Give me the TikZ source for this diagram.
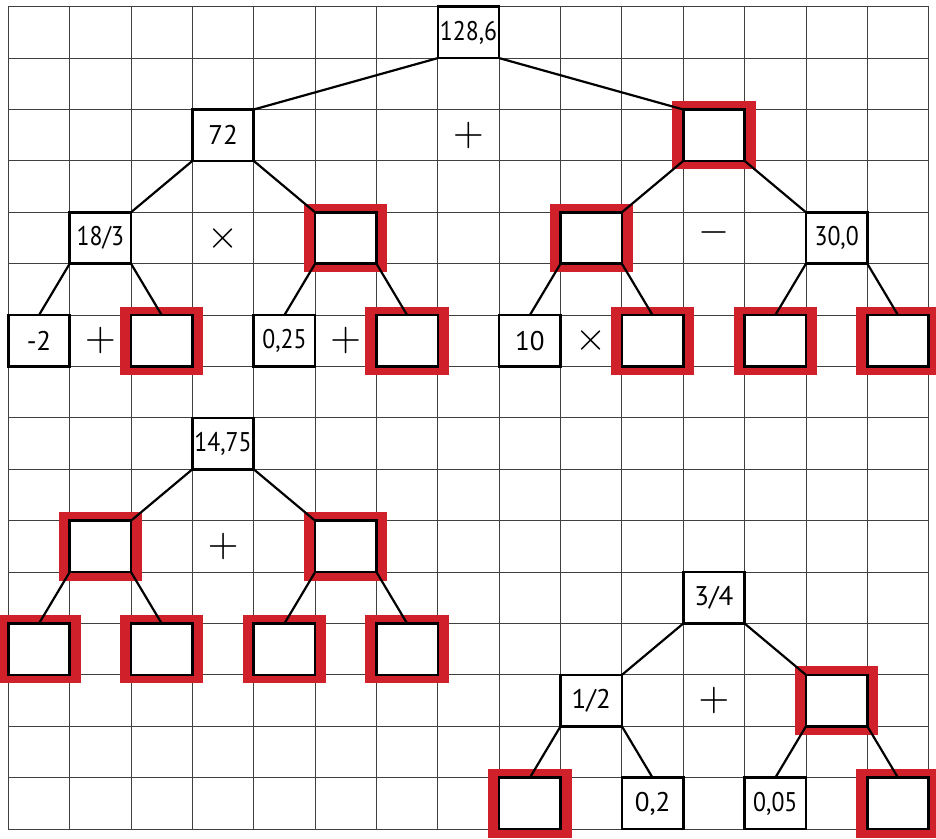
\documentclass[tikz,border=0pt]{standalone}
\usepackage{fontspec}
\setmainfont{PT Sans}
\pgfdeclarelayer{gridlayer}
\pgfdeclarelayer{redlayer}
\pgfsetlayers{gridlayer,redlayer,main}
\definecolor{hlred}{RGB}{208,33,42}
\tikzset{
  gridline/.style={draw=black!75, line width=0.9pt},
  box/.style={draw=black, line width=2.5pt, fill=white, minimum width=61.36pt,
    minimum height=51.4pt, inner sep=0pt, outer sep=0pt,
    font=\fontsize{27}{29}\selectfont},
  op/.style={inner sep=0pt},
  edge/.style={draw=black, line width=2.2pt},
  hlframe/.style={fill=hlred},
}
\newcommand{\narrow}[1]{\scalebox{0.88}[1]{#1}}
\newcommand{\bigop}[1]{\scalebox{4}{$#1$}}
\begin{document}
\begin{tikzpicture}[x=61.36pt, y=-51.4pt, shift={(8.3pt,-6.7pt)}]
\useasboundingbox (-0.13527,-0.13035) rectangle (15.1190,16.1926);
% ---- tree A
\node[box] (r)   at (7.5,0.5) {\narrow{128,6}};
\node[box] (a)   at (3.5,2.5) {72};
\node[box] (b)   at (11.5,2.5) {};
\node[box] (a1)  at (1.5,4.5) {\narrow{18/3}};
\node[box] (a2)  at (5.5,4.5) {};
\node[box] (b1)  at (9.5,4.5) {};
\node[box] (b2)  at (13.5,4.5) {\narrow{30,0}};
\node[box] (a11) at (0.5,6.5) {-2};
\node[box] (a12) at (2.5,6.5) {};
\node[box] (a21) at (4.5,6.5) {\narrow{0,25}};
\node[box] (a22) at (6.5,6.5) {};
\node[box] (b11) at (8.5,6.5) {10};
\node[box] (b12) at (10.5,6.5) {};
\node[box] (b21) at (12.5,6.5) {};
\node[box] (b22) at (14.5,6.5) {};
\node[op] (oA0) at (7.5,2.5) {\bigop{+}};
\node[op] (oA1) at (3.5,4.5) {\bigop{\times}};
\node[op,yshift=6pt] (oA2) at (11.5,4.5) {\bigop{-}};
\node[op] (oA3) at (1.5,6.5) {\bigop{+}};
\node[op] (oA4) at (5.5,6.5) {\bigop{+}};
\node[op] (oA5) at (9.5,6.5) {\bigop{\times}};
\draw[edge] (r.south west) -- (a.north east);
\draw[edge] (r.south east) -- (b.north west);
\draw[edge] (a.south west) -- (a1.north east);
\draw[edge] (a.south east) -- (a2.north west);
\draw[edge] (b.south west) -- (b1.north east);
\draw[edge] (b.south east) -- (b2.north west);
\draw[edge] (a1.south west) -- (a11.north);
\draw[edge] (a1.south east) -- (a12.north);
\draw[edge] (a2.south west) -- (a21.north);
\draw[edge] (a2.south east) -- (a22.north);
\draw[edge] (b1.south west) -- (b11.north);
\draw[edge] (b1.south east) -- (b12.north);
\draw[edge] (b2.south west) -- (b21.north);
\draw[edge] (b2.south east) -- (b22.north);
% ---- tree B
\node[box] (s)   at (3.5,8.5) {\narrow{14,75}};
\node[box] (s1)  at (1.5,10.5) {};
\node[box] (s2)  at (5.5,10.5) {};
\node[box] (s11) at (0.5,12.5) {};
\node[box] (s12) at (2.5,12.5) {};
\node[box] (s21) at (4.5,12.5) {};
\node[box] (s22) at (6.5,12.5) {};
\node[op] (oB0) at (3.5,10.5) {\bigop{+}};
\draw[edge] (s.south west) -- (s1.north east);
\draw[edge] (s.south east) -- (s2.north west);
\draw[edge] (s1.south west) -- (s11.north);
\draw[edge] (s1.south east) -- (s12.north);
\draw[edge] (s2.south west) -- (s21.north);
\draw[edge] (s2.south east) -- (s22.north);
% ---- tree C
\node[box] (t)   at (11.5,11.5) {3/4};
\node[box] (t1)  at (9.5,13.5) {1/2};
\node[box] (t2)  at (13.5,13.5) {};
\node[box] (t11) at (8.5,15.5) {};
\node[box] (t12) at (10.5,15.5) {0,2};
\node[box] (t21) at (12.5,15.5) {\narrow{0,05}};
\node[box] (t22) at (14.5,15.5) {};
\node[op] (oC0) at (11.5,13.5) {\bigop{+}};
\draw[edge] (t.south west) -- (t1.north east);
\draw[edge] (t.south east) -- (t2.north west);
\draw[edge] (t1.south west) -- (t11.north);
\draw[edge] (t1.south east) -- (t12.north);
\draw[edge] (t2.south west) -- (t21.north);
\draw[edge] (t2.south east) -- (t22.north);
% ---- red highlight frames
\begin{pgfonlayer}{redlayer}
\foreach \n in {b,a2,b1,a12,a22,b12,b21,b22,s1,s2,s11,s12,s21,s22,t2,t11,t22}{
  \fill[hlframe] ([xshift=-11pt,yshift=8.5pt]\n.north west) rectangle ([xshift=11pt,yshift=-8.5pt]\n.south east);
}
\end{pgfonlayer}
% ---- grid
\begin{pgfonlayer}{gridlayer}
\foreach \i in {0,...,15} { \draw[gridline] (\i,0) -- (\i,16); }
\foreach \j in {0,...,16} { \draw[gridline] (0,\j) -- (15,\j); }
\end{pgfonlayer}
\end{tikzpicture}
\end{document}
